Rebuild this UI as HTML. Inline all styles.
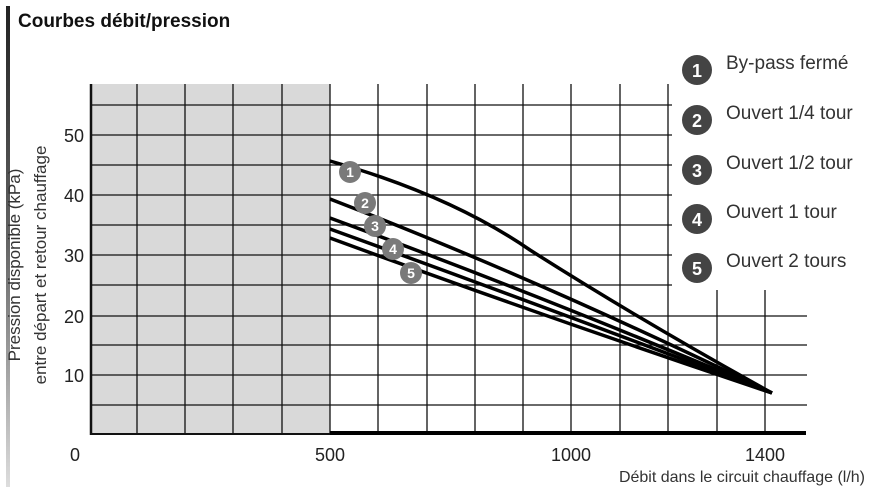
<!DOCTYPE html>
<html><head><meta charset="utf-8"><style>
body{margin:0;background:#fff;}
svg{display:block;font-family:"Liberation Sans",sans-serif;}
</style></head><body>
<svg width="879" height="487" viewBox="0 0 879 487">
<defs><linearGradient id="g" x1="0" y1="0" x2="0" y2="1">
<stop offset="0" stop-color="#222"/><stop offset="0.5" stop-color="#666"/><stop offset="1" stop-color="#ddd"/></linearGradient></defs>
<rect x="6" y="6" width="4" height="481" fill="url(#g)"/>
<text x="18" y="27" font-size="19" font-weight="bold" fill="#111">Courbes débit/pression</text>
<rect x="90" y="84" width="240" height="350" fill="#d9d9d9"/>
<g stroke="#111" stroke-width="1.3">
<line x1="90" y1="105" x2="672" y2="105"/><line x1="90" y1="135" x2="672" y2="135"/>
<line x1="90" y1="165" x2="672" y2="165"/><line x1="90" y1="195" x2="672" y2="195"/>
<line x1="90" y1="225" x2="672" y2="225"/><line x1="90" y1="255" x2="672" y2="255"/>
<line x1="90" y1="285" x2="672" y2="285"/>
<line x1="90" y1="316" x2="807" y2="316"/><line x1="90" y1="345" x2="807" y2="345"/>
<line x1="90" y1="375" x2="807" y2="375"/><line x1="90" y1="405" x2="807" y2="405"/>
<line x1="137" y1="84" x2="137" y2="433"/><line x1="185" y1="84" x2="185" y2="433"/>
<line x1="233" y1="84" x2="233" y2="433"/><line x1="282" y1="84" x2="282" y2="433"/>
<line x1="330" y1="84" x2="330" y2="433"/><line x1="378" y1="84" x2="378" y2="433"/>
<line x1="427" y1="84" x2="427" y2="433"/><line x1="475" y1="84" x2="475" y2="433"/>
<line x1="523" y1="84" x2="523" y2="433"/><line x1="571" y1="84" x2="571" y2="433"/>
<line x1="668" y1="84" x2="668" y2="433"/><line x1="620" y1="84" x2="620" y2="433"/>
<line x1="717" y1="290" x2="717" y2="433"/><line x1="765" y1="290" x2="765" y2="433"/>
</g>
<line x1="91" y1="84" x2="91" y2="435" stroke="#111" stroke-width="2.5"/>
<line x1="90" y1="434" x2="330" y2="434" stroke="#111" stroke-width="2"/>
<line x1="330" y1="433" x2="806" y2="433" stroke="#000" stroke-width="4"/>
<g fill="none" stroke="#000" stroke-width="3.5" stroke-linecap="butt">
<path d="M330 161 Q450 195 530 250 Q640 320 772 393"/>
<path d="M330 199 Q540 280 772 393"/>
<path d="M330 218 Q540 295 772 393"/>
<path d="M330 229 Q540 305 772 393"/>
<path d="M330 238 Q540 315 772 393"/>
</g>
<g font-size="14" font-weight="bold" fill="#fff" text-anchor="middle">
<circle cx="350" cy="172" r="11" fill="#7a7a7a"/><text x="350" y="177">1</text>
<circle cx="365" cy="203" r="11" fill="#7a7a7a"/><text x="365" y="208">2</text>
<circle cx="375" cy="226" r="11" fill="#7a7a7a"/><text x="375" y="231">3</text>
<circle cx="393" cy="249" r="11" fill="#7a7a7a"/><text x="393" y="254">4</text>
<circle cx="411" cy="273" r="11" fill="#7a7a7a"/><text x="411" y="278">5</text>
</g>
<g font-size="18" font-weight="bold" fill="#fff" text-anchor="middle">
<circle cx="697" cy="70" r="15" fill="#444"/><text x="697" y="77">1</text>
<circle cx="697" cy="120" r="15" fill="#444"/><text x="697" y="127">2</text>
<circle cx="697" cy="170" r="15" fill="#444"/><text x="697" y="177">3</text>
<circle cx="697" cy="219" r="15" fill="#444"/><text x="697" y="226">4</text>
<circle cx="697" cy="268" r="15" fill="#444"/><text x="697" y="275">5</text>
</g>
<g font-size="19" fill="#333">
<text x="726" y="69">By-pass fermé</text>
<text x="726" y="119">Ouvert 1/4 tour</text>
<text x="726" y="169">Ouvert 1/2 tour</text>
<text x="726" y="218">Ouvert 1 tour</text>
<text x="726" y="267">Ouvert 2 tours</text>
</g>
<g font-size="18" fill="#222" text-anchor="end">
<text x="84" y="142">50</text><text x="84" y="202">40</text><text x="84" y="262">30</text>
<text x="84" y="323">20</text><text x="84" y="382">10</text>
</g>
<g font-size="18" fill="#222" text-anchor="middle">
<text x="75" y="461">0</text><text x="330" y="461">500</text>
<text x="571" y="461">1000</text><text x="765" y="461">1400</text>
</g>
<text x="865" y="482" font-size="16" fill="#333" text-anchor="end">Débit dans le circuit chauffage (l/h)</text>
<g font-size="17" fill="#333" text-anchor="middle">
<text transform="translate(20,265) rotate(-90)">Pression disponible (kPa)</text>
<text transform="translate(46,265) rotate(-90)">entre départ et retour chauffage</text>
</g>
</svg>
</body></html>
